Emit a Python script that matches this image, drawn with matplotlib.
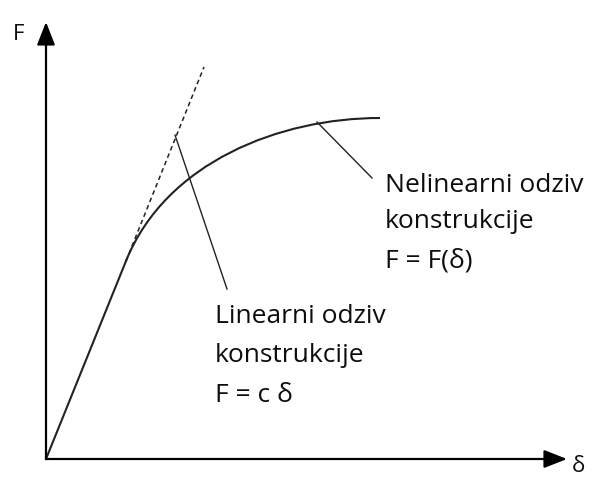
import matplotlib.pyplot as plt
from matplotlib.path import Path
from matplotlib.patches import PathPatch

plt.rcParams['font.family'] = ['Open Sans', 'DejaVu Sans']

# schematic force-displacement diagram, units are arbitrary (delta, F)
origin = (0, 0)
linear_end = (80, 198)
# cubic bezier control points for the nonlinear part
curve_ctrl = [(80, 198), (120, 297), (234, 341), (334, 341)]
tangent_top = (158, 392)

lin_pointer = [(129, 324), (181, 170)]
nonlin_pointer = [(271, 337), (326, 281)]

lin_label = ["Linearni odziv", "konstrukcije", "F = c δ"]
lin_label_pos = (169, [136, 97, 57])
nonlin_label = ["Nelinearni odziv", "konstrukcije", "F = F(δ)"]
nonlin_label_pos = (339, [267, 231, 191])

fig = plt.figure(figsize=(5.92, 4.8), dpi=100)
ax = fig.add_axes([0, 0, 1, 1])
ax.set_xlim(-46, 546)
ax.set_ylim(-21, 459)
ax.axis('off')

arrow = dict(arrowstyle='-|>,head_length=1.4,head_width=0.55', lw=1.6,
             color='black', shrinkA=0, shrinkB=0, mutation_scale=10)
ax.annotate('', xy=(0, 437), xytext=origin, arrowprops=arrow)
ax.annotate('', xy=(521, 0), xytext=origin, arrowprops=arrow)

# linear part + nonlinear curve
ax.plot([origin[0], linear_end[0]], [origin[1], linear_end[1]], color='#222222', lw=1.5)
codes = [Path.MOVETO, Path.CURVE4, Path.CURVE4, Path.CURVE4]
ax.add_patch(PathPatch(Path(curve_ctrl, codes), fill=False, ec='#222222', lw=1.5))

# tangent (dashed)
ax.plot([linear_end[0], tangent_top[0]], [linear_end[1], tangent_top[1]],
        color='#222222', lw=1.1, dashes=(3, 2.2))

# pointer lines
ax.plot(*zip(*lin_pointer), color='#222222', lw=1.0)
ax.plot(*zip(*nonlin_pointer), color='#222222', lw=1.0)

for txt, y in zip(lin_label, lin_label_pos[1]):
    ax.text(lin_label_pos[0], y, txt, fontsize=19, va='baseline', ha='left', color='#0d0d0d')
for txt, y in zip(nonlin_label, nonlin_label_pos[1]):
    ax.text(nonlin_label_pos[0], y, txt, fontsize=19, va='baseline', ha='left', color='#0d0d0d')

ax.text(-33, 419, "F", fontsize=16, va='baseline', ha='left', color='#0d0d0d')
ax.text(526, -13, "δ", fontsize=16, va='baseline', ha='left', color='#0d0d0d')

fig.savefig('out.png', dpi=100)
